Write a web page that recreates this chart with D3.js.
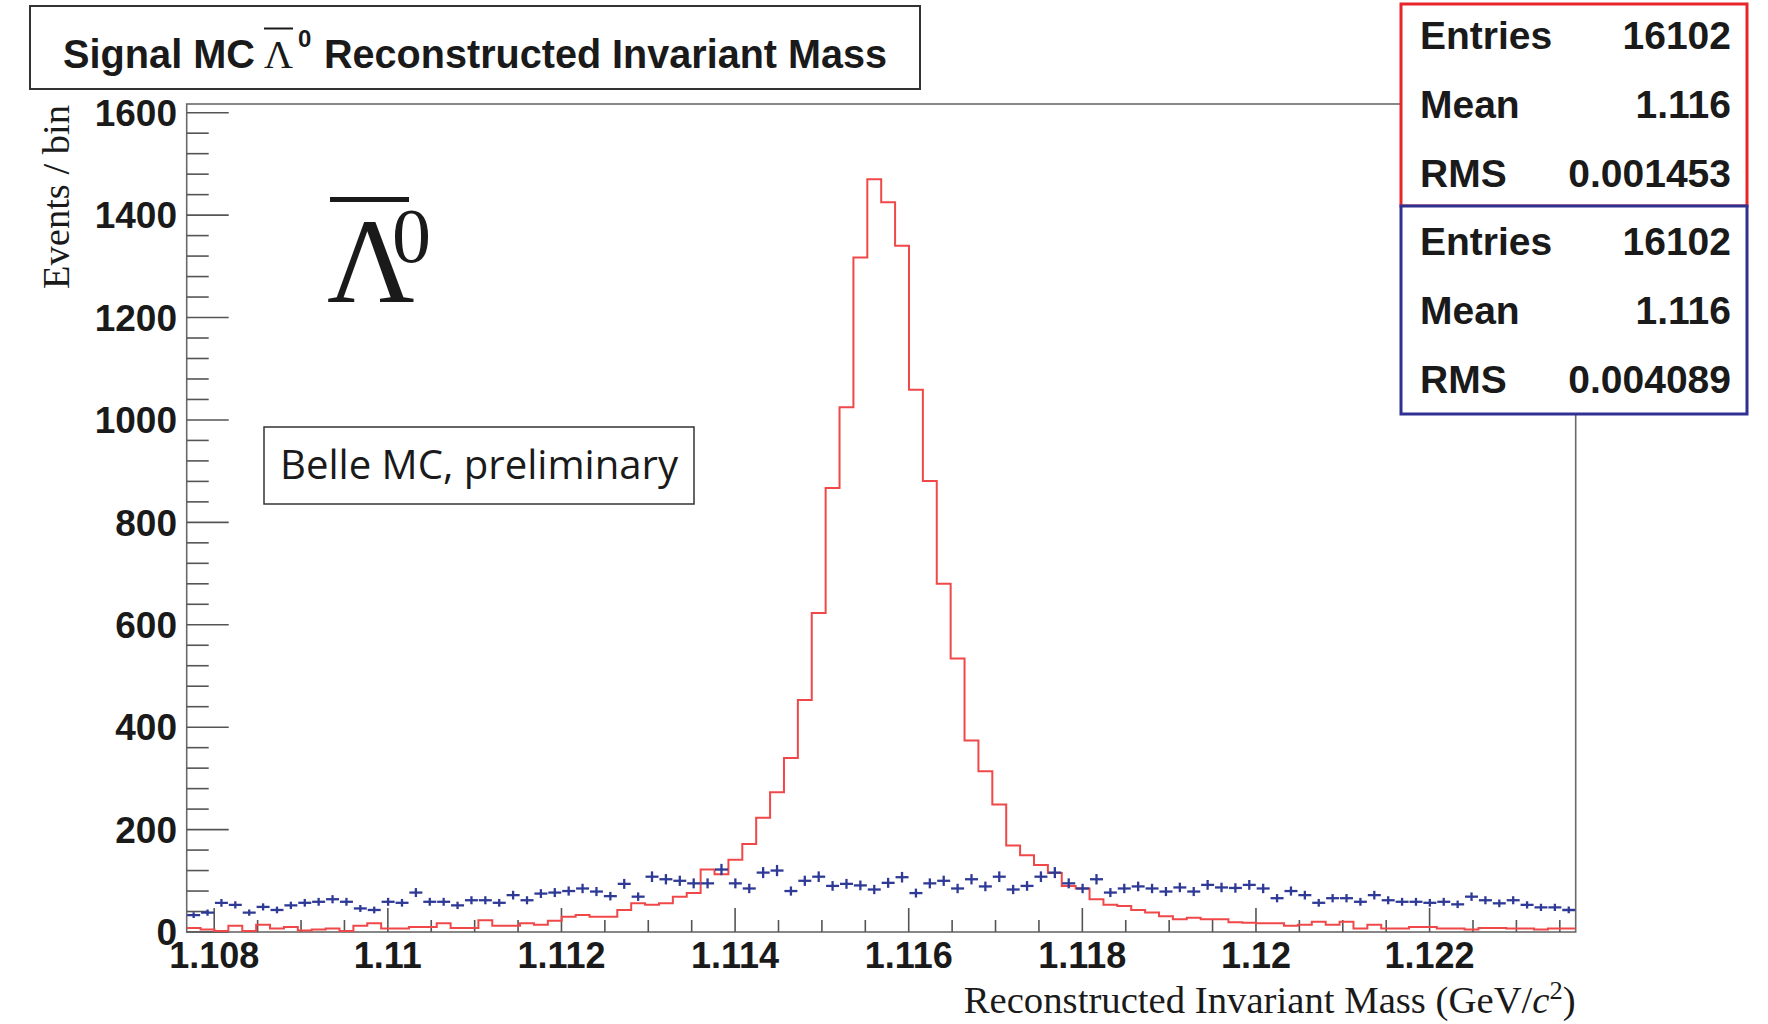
<!DOCTYPE html>
<html><head><meta charset="utf-8">
<script src="https://cdn.jsdelivr.net/npm/d3@7"></script>
<style>body{margin:0;background:#fff}</style>
</head><body>
<svg id="c" width="1768" height="1024"></svg>
<script>
// ---- data ----
const binLow = 1.107683, binHigh = 1.123683, nBins = 100;
const redCounts = [8,5,2,12,2,14,7,10,3,5, 7,2,12,17,7,7,10,10,17,8,
  8,23,12,12,17,14,22,30,33,30, 30,43,56,53,56,69,76,122,113,141,
  172,223,273,340,453,623,867,1025,1317,1470, 1425,1340,1059,881,680,534,374,314,249,169,
  150,131,115,90,85,64,53,51,43,38, 31,25,28,25,25,19,18,17,17,12,
  14,20,14,20,7,14,7,7,10,10, 7,7,5,8,8,7,7,5,7,7];
const blueCounts = [33,38,57,53,38,49,43,52,57,59, 64,59,46,43,59,57,77,59,59,52,
  62,62,57,72,62,75,77,80,85,79, 70,94,69,108,103,100,95,95,122,95,
  85,116,120,80,100,108,90,94,91,83, 96,107,76,95,100,85,103,89,108,83,
  90,108,116,95,85,103,77,85,89,85, 79,87,79,92,87,86,92,85,66,80,
  72,57,66,66,59,72,62,59,59,57, 59,54,69,62,56,62,53,48,48,43];
const xTickValues = [1.108,1.110,1.112,1.114,1.116,1.118,1.120,1.122];
const xTickLabels = ["1.108","1.11","1.112","1.114","1.116","1.118","1.12","1.122"];
const yTickValues = [0,200,400,600,800,1000,1200,1400,1600];
const statNames = ["Entries","Mean","RMS"];
const statsRed = ["16102","1.116","0.001453"];
const statsBlue = ["16102","1.116","0.004089"];
const yMax = 1617;

// ---- layout ----
const L = 186.7, R = 1575.7, T = 104, B = 932;
const svg = d3.select("#c");
const x = d3.scaleLinear().domain([binLow, binHigh]).range([L, R]);
const y = d3.scaleLinear().domain([0, yMax]).range([B, T]);
const edges = d3.range(nBins + 1).map(i => binLow + i * (binHigh - binLow) / nBins);
const bold = "'Liberation Sans', Arial, Helvetica, sans-serif";
const serif = "'Liberation Serif', 'Times New Roman', serif";

svg.append("defs").append("clipPath").attr("id","clip")
  .append("rect").attr("x",L).attr("y",T).attr("width",R-L).attr("height",B-T);

// frame
svg.append("rect").attr("x",L).attr("y",T).attr("width",R-L).attr("height",B-T)
  .attr("fill","none").attr("stroke","#6a6a6a").attr("stroke-width",1.6);

// y ticks
const yMinor = d3.range(0, 1601, 40);
svg.append("g").selectAll("line").data(yMinor).join("line")
  .attr("x1", L).attr("x2", d => L + (d % 200 === 0 ? 42 : 22))
  .attr("y1", d => y(d)).attr("y2", d => y(d))
  .attr("stroke","#555").attr("stroke-width",1.6);
svg.append("g").selectAll("text").data(yTickValues).join("text")
  .attr("x", 177).attr("y", d => y(d)).attr("dy","0.36em")
  .attr("text-anchor","end").attr("font-family",bold).attr("font-weight","bold")
  .attr("font-size",37).attr("fill","#1a1a1a").text(d => d);

// x ticks
const xMinor = d3.range(0, 32).map(k => 1.108 + k * 0.0005).filter(v => v <= binHigh);
svg.append("g").selectAll("line").data(xMinor).join("line")
  .attr("x1", d => x(d)).attr("x2", d => x(d))
  .attr("y1", B).attr("y2", (d,i) => B - (i % 4 === 0 ? 24 : 12))
  .attr("stroke","#555").attr("stroke-width",1.6);
svg.append("g").selectAll("text").data(xTickValues).join("text")
  .attr("x", d => x(d)).attr("y", 968)
  .attr("text-anchor","middle").attr("font-family",bold).attr("font-weight","bold")
  .attr("font-size",36).attr("fill","#1a1a1a").text((d,i) => xTickLabels[i]);

// red histogram
const redPts = redCounts.map((c,i) => [edges[i], c]);
redPts.push([edges[nBins], redCounts[nBins-1]]);
svg.append("path").attr("clip-path","url(#clip)")
  .attr("d", d3.line().x(d => x(d[0])).y(d => y(d[1])).curve(d3.curveStepAfter)(redPts))
  .attr("fill","none").attr("stroke","#f04848").attr("stroke-width",2);

// blue crosses
const gb = svg.append("g").attr("clip-path","url(#clip)")
  .attr("stroke","#2e3a96").attr("stroke-width",2.3);
blueCounts.forEach((c,i) => {
  const xc = x((edges[i] + edges[i+1]) / 2);
  const e = Math.sqrt(c);
  gb.append("line").attr("x1", xc - 6.5).attr("x2", xc + 6.5).attr("y1", y(c)).attr("y2", y(c));
  gb.append("line").attr("x1", xc).attr("x2", xc).attr("y1", y(c - e)).attr("y2", y(c + e));
});

// axis titles
const xt = svg.append("text").attr("x", R).attr("y", 1013).attr("text-anchor","end")
  .attr("font-family",serif).attr("font-size",38).attr("fill","#1a1a1a")
  .attr("textLength",612).attr("lengthAdjust","spacingAndGlyphs");
xt.append("tspan").text("Reconstructed Invariant Mass (GeV/");
xt.append("tspan").attr("font-style","italic").text("c");
xt.append("tspan").attr("font-size",26).attr("dy",-14).text("2");
xt.append("tspan").attr("dy",14).text(")");
svg.append("text").attr("transform","translate(69,105) rotate(-90)")
  .attr("text-anchor","end").attr("font-family",serif).attr("font-size",38)
  .attr("textLength",184).attr("lengthAdjust","spacingAndGlyphs")
  .attr("fill","#1a1a1a").text("Events / bin");

// title box
svg.append("rect").attr("x",30).attr("y",6).attr("width",890).attr("height",83)
  .attr("fill","#fff").attr("stroke","#333").attr("stroke-width",2);
svg.append("text").attr("x",63).attr("y",68).attr("font-family",bold).attr("font-weight","bold")
  .attr("font-size",41).attr("fill","#1a1a1a").attr("textLength",192).attr("lengthAdjust","spacingAndGlyphs")
  .text("Signal MC");
svg.append("text").attr("x",264).attr("y",68).attr("font-family",serif)
  .attr("font-size",40).attr("fill","#1a1a1a").text("Λ");
svg.append("line").attr("x1",264).attr("x2",293).attr("y1",28.5).attr("y2",28.5)
  .attr("stroke","#1a1a1a").attr("stroke-width",2);
svg.append("text").attr("x",298).attr("y",47).attr("font-family",bold).attr("font-weight","bold")
  .attr("font-size",24).attr("fill","#1a1a1a").text("0");
svg.append("text").attr("x",324).attr("y",68).attr("font-family",bold).attr("font-weight","bold")
  .attr("font-size",41).attr("fill","#1a1a1a").attr("textLength",563).attr("lengthAdjust","spacingAndGlyphs")
  .text("Reconstructed Invariant Mass");

// big Lambda-bar label
svg.append("text").attr("x",327).attr("y",302).attr("font-family",serif)
  .attr("font-size",121).attr("fill","#1a1a1a").text("Λ");
svg.append("rect").attr("x",330).attr("y",197).attr("width",79).attr("height",5).attr("fill","#1a1a1a");
svg.append("text").attr("x",392).attr("y",262).attr("font-family",serif)
  .attr("font-size",78).attr("fill","#1a1a1a").text("0");

// Belle MC box
svg.append("rect").attr("x",264).attr("y",427).attr("width",430).attr("height",77)
  .attr("fill","#fff").attr("stroke","#333").attr("stroke-width",1.5);
svg.append("text").attr("x",280).attr("y",479).attr("font-family","'Open Sans', 'Noto Sans', sans-serif")
  .attr("font-size",40).attr("fill","#1a1a1a").attr("textLength",398).attr("lengthAdjust","spacingAndGlyphs")
  .text("Belle MC, preliminary");

// stats boxes
function statsBox(y0, h, color, vals, baselines) {
  svg.append("rect").attr("x",1401).attr("y",y0).attr("width",346).attr("height",h)
    .attr("fill","#fff").attr("stroke",color).attr("stroke-width",3);
  statNames.forEach((n,i) => {
    svg.append("text").attr("x",1420).attr("y",baselines[i]).attr("font-family",bold)
      .attr("font-weight","bold").attr("font-size",39).attr("fill","#1a1a1a").text(n);
    svg.append("text").attr("x",1731).attr("y",baselines[i]).attr("text-anchor","end")
      .attr("font-family",bold).attr("font-weight","bold").attr("font-size",39)
      .attr("fill","#1a1a1a").text(vals[i]);
  });
}
statsBox(4, 202, "#e8262a", statsRed, [49, 118, 187]);
statsBox(206, 208, "#2e3192", statsBlue, [255, 324, 393]);
</script>
</body></html>
